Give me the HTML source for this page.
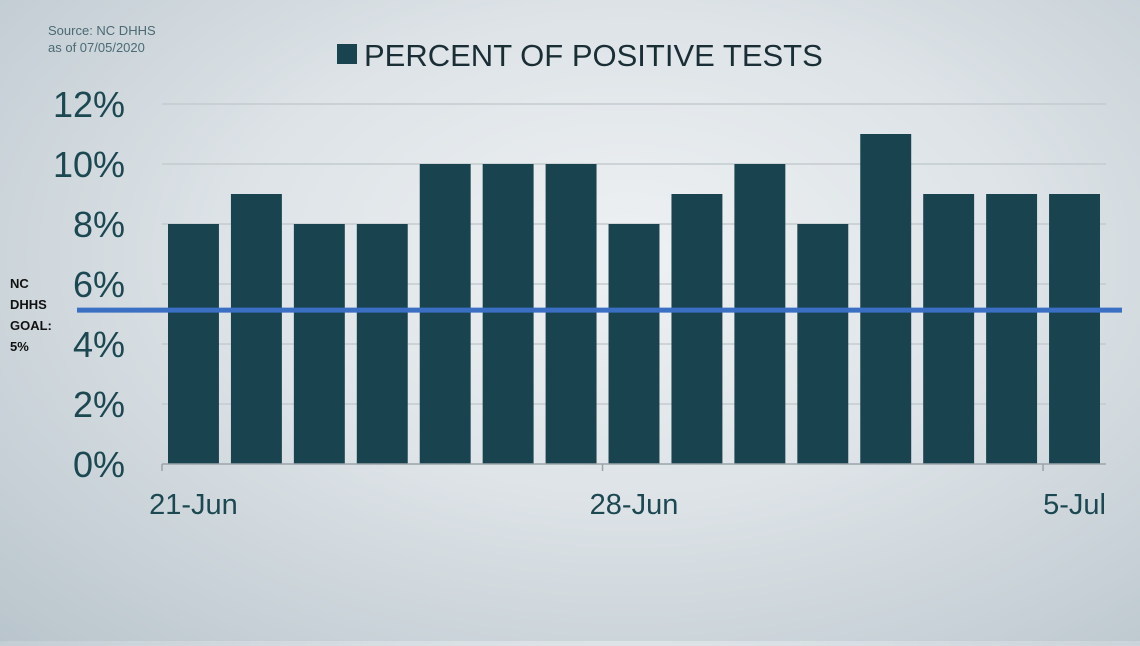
<!DOCTYPE html>
<html><head><meta charset="utf-8"><style>
html,body{margin:0;padding:0;}
body{width:1140px;height:641px;overflow:hidden;background:radial-gradient(ellipse at 55% 40%,#eef1f3 0%,#dde3e7 45%,#b9c5cc 100%);font-family:"Liberation Sans",sans-serif;}
</style></head><body>
<svg width="1140" height="641" xmlns="http://www.w3.org/2000/svg">
<text x="48" y="35" font-size="13" fill="#4b6a74">Source: NC DHHS</text>
<text x="48" y="52" font-size="13" fill="#4b6a74">as of 07/05/2020</text>
<rect x="337" y="44" width="20" height="20" fill="#18434f"/>
<text x="364" y="66" font-size="31" fill="#1a2e35">PERCENT OF POSITIVE TESTS</text>
<g id="grid"></g><g id="bars"></g><g id="axis"></g>
<text x="10" y="288" font-size="13" font-weight="bold" fill="#111">NC</text>
<text x="10" y="309" font-size="13" font-weight="bold" fill="#111">DHHS</text>
<text x="10" y="330" font-size="13" font-weight="bold" fill="#111">GOAL:</text>
<text x="10" y="351" font-size="13" font-weight="bold" fill="#111">5%</text>
<g id="goal"></g>
</svg>
<script>
const categories=["21-Jun","22-Jun","23-Jun","24-Jun","25-Jun","26-Jun","27-Jun","28-Jun","29-Jun","30-Jun","1-Jul","2-Jul","3-Jul","4-Jul","5-Jul"];
const values=[8,9,8,8,10,10,10,8,9,10,8,11,9,9,9];
const yTicks=[0,2,4,6,8,10,12];
const xLabelIdx=[0,7,14];
const goalValue=5.13;
const NS="http://www.w3.org/2000/svg";
const L=162,R=1106,T=104,B=464,yMax=12;
const slot=(R-L)/categories.length;
const y=v=>B-(v/yMax)*(B-T);
const x=i=>L+i*slot;
function mk(tag,attrs,parent,txt){const e=document.createElementNS(NS,tag);for(const k in attrs)e.setAttribute(k,attrs[k]);if(txt!==undefined)e.textContent=txt;document.getElementById(parent).appendChild(e);return e;}
yTicks.forEach(t=>{
 if(t>0){const g=mk('line',{x1:L,x2:R,y1:y(t),y2:y(t),stroke:'#c4cbcf','stroke-width':1.5},'grid');
 
 }
 const lb=mk('text',{x:125,y:y(t)+13,'font-size':36,fill:'#1c4852','text-anchor':'end'},'grid',t+'%');
 
 
});
values.forEach((v,i)=>{
 const r=mk('rect',{x:x(i)+6,y:y(v),width:slot-12,height:B-y(v),fill:'#18434f'},'bars');
 
 
});
const ax=mk('line',{x1:L,x2:R,y1:B,y2:B,stroke:'#9aa4a9','stroke-width':1.5},'axis');


xLabelIdx.forEach(i=>{
 const tk=mk('line',{x1:x(i),x2:x(i),y1:B,y2:B+7,stroke:'#9aa4a9','stroke-width':1.5},'axis');
 
 
 const lb=mk('text',{x:x(i)+slot/2,y:514,'font-size':29,fill:'#1c4852','text-anchor':'middle'},'axis',categories[i]);
 
 
});
const gl=mk('line',{x1:77,x2:1122,y1:y(goalValue),y2:y(goalValue),stroke:'#3a6fc4','stroke-width':5},'goal');


</script>
</body></html>
